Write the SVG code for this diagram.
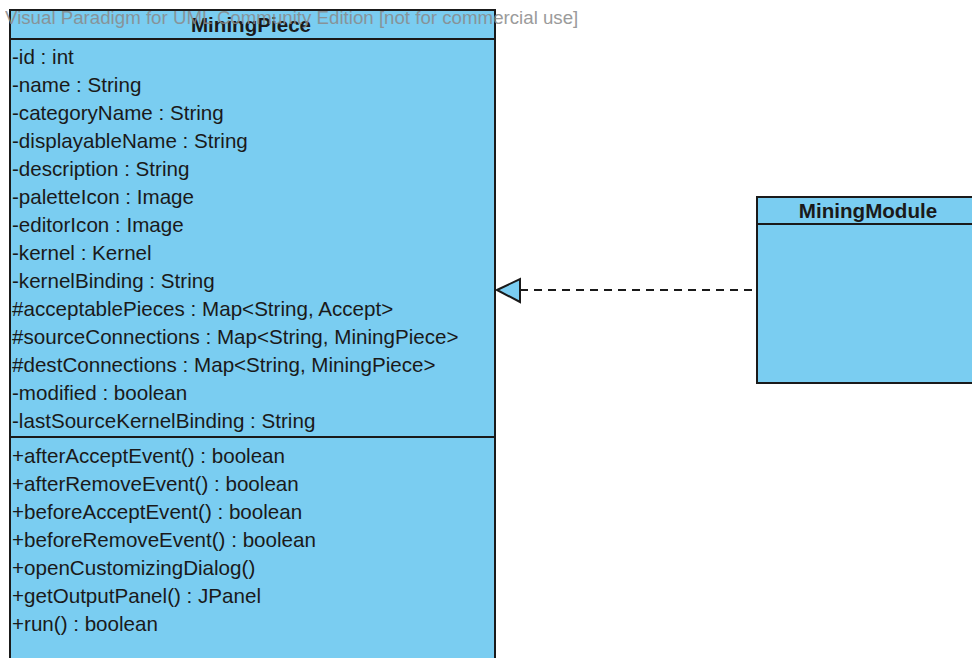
<svg xmlns="http://www.w3.org/2000/svg" width="972" height="658" viewBox="0 0 972 658">
<style>
.box{fill:#7acdf1;stroke:#1a1a1a;stroke-width:2}
.ln{stroke:#1a1a1a;stroke-width:2;fill:none}
.t{font-family:"Liberation Sans",Arial,sans-serif;font-size:20.6px;fill:#1a1a1a}
.h{font-family:"Liberation Sans",Arial,sans-serif;font-size:20.6px;font-weight:bold;fill:#1a1a1a;text-anchor:middle}
.wm{font-family:"Liberation Sans",Arial,sans-serif;font-size:18.7px;fill:#8a8a8a;opacity:0.85}
</style>
<rect width="972" height="658" fill="#ffffff"/>
<g id="MiningPiece">
<rect class="box" x="10" y="10" width="485" height="660"/>
<line class="ln" x1="10" y1="39" x2="495" y2="39"/>
<line class="ln" x1="10" y1="437" x2="495" y2="437"/>
<text class="h" x="251" y="32">MiningPiece</text>
<text class="t" x="12" y="64">-id : int</text>
<text class="t" x="12" y="92">-name : String</text>
<text class="t" x="12" y="120">-categoryName : String</text>
<text class="t" x="12" y="148">-displayableName : String</text>
<text class="t" x="12" y="176">-description : String</text>
<text class="t" x="12" y="204">-paletteIcon : Image</text>
<text class="t" x="12" y="232">-editorIcon : Image</text>
<text class="t" x="12" y="260">-kernel : Kernel</text>
<text class="t" x="12" y="288">-kernelBinding : String</text>
<text class="t" x="12" y="316">#acceptablePieces : Map&lt;String, Accept&gt;</text>
<text class="t" x="12" y="344">#sourceConnections : Map&lt;String, MiningPiece&gt;</text>
<text class="t" x="12" y="372">#destConnections : Map&lt;String, MiningPiece&gt;</text>
<text class="t" x="12" y="400">-modified : boolean</text>
<text class="t" x="12" y="428">-lastSourceKernelBinding : String</text>
<text class="t" x="12" y="463">+afterAcceptEvent() : boolean</text>
<text class="t" x="12" y="491">+afterRemoveEvent() : boolean</text>
<text class="t" x="12" y="519">+beforeAcceptEvent() : boolean</text>
<text class="t" x="12" y="547">+beforeRemoveEvent() : boolean</text>
<text class="t" x="12" y="575">+openCustomizingDialog()</text>
<text class="t" x="12" y="603">+getOutputPanel() : JPanel</text>
<text class="t" x="12" y="631">+run() : boolean</text>
</g>
<g id="MiningModule">
<rect class="box" x="757" y="197" width="230" height="186"/>
<line class="ln" x1="757" y1="224" x2="972" y2="224"/>
<text class="h" x="868" y="218">MiningModule</text>
</g>
<g id="connectors">
<line x1="520" y1="290" x2="752" y2="290" stroke="#1a1a1a" stroke-width="2" stroke-dasharray="8,6"/>
<polygon points="497,290 520,279 520,302" fill="#7acdf1" stroke="#1a1a1a" stroke-width="2"/>
</g>
<text class="wm" x="5" y="24">Visual Paradigm for UML Community Edition [not for commercial use]</text>
</svg>
